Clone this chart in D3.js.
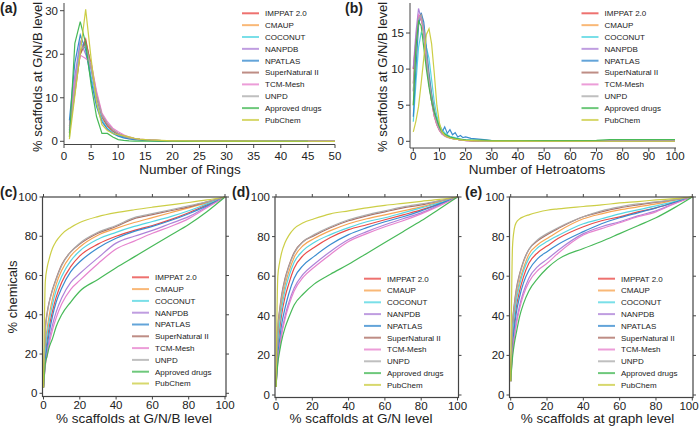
<!DOCTYPE html>
<html><head><meta charset="utf-8">
<script src="https://cdn.jsdelivr.net/npm/d3@7"></script>
<style>
body{margin:0;background:#fff}
svg{display:block}
text{font-family:"Liberation Sans",Arial,Helvetica,sans-serif;fill:#222}
</style>
</head><body>
<svg id="chart" width="700" height="427"></svg>
<script>
// ---------------- DATA ----------------
const seriesNames = ["IMPPAT 2.0","CMAUP","COCONUT","NANPDB","NPATLAS","SuperNatural II","TCM-Mesh","UNPD","Approved drugs","PubChem"];
const seriesColors = ["#e8423f","#f7a04a","#4dd4e0","#a97cd6","#2f86cc","#a8675c","#e57ccb","#a9a9a9","#3db54f","#c9cb3c"];

// (a) Number of rings
const ringsX = [1,2,3,4,5,6,7,8,9,10,11,12,13,14,15,16,17,18,19,20,22,25,30,35,40,45,50];
const ringsValues = [
  [3.5,13,20.5,23.5,17,10.5,5.5,3.5,2.3,1.5,1.0,0.7,0.5,0.35,0.25,0.2,0.15,0.1,0.08,0.06,0.04,0.03,0.02,0.01,0.01,0.01,0],
  [2,12,20,22.5,18,11,6.2,4,2.7,1.8,1.3,0.9,0.6,0.45,0.35,0.25,0.2,0.15,0.1,0.08,0.05,0.03,0.02,0.01,0.01,0.01,0],
  [2.5,14,22.5,21.5,15,9,5,3,2,1.3,0.9,0.6,0.45,0.35,0.25,0.2,0.15,0.1,0.08,0.06,0.04,0.03,0.02,0.01,0.01,0.01,0],
  [3,15,23,20,16.5,10,6,4,2.6,1.8,1.2,0.8,0.6,0.45,0.35,0.25,0.2,0.15,0.1,0.08,0.05,0.03,0.02,0.01,0.01,0.01,0],
  [4.8,18,24.4,21,14,8,4.5,2.8,1.8,1.2,0.8,0.55,0.4,0.3,0.2,0.15,0.1,0.08,0.06,0.05,0.04,0.03,0.02,0.01,0.01,0.01,0],
  [2,11,20,23,17.5,10.5,6,3.8,2.5,1.7,1.2,0.8,0.6,0.45,0.35,0.25,0.2,0.15,0.1,0.08,0.05,0.03,0.02,0.01,0.01,0.01,0],
  [2.5,14,19.8,19,18,11.5,6.5,4.5,3,2.2,1.5,1.0,0.7,0.5,0.4,0.3,0.2,0.15,0.1,0.08,0.05,0.03,0.02,0.01,0.01,0.01,0],
  [2,12,21,22,17,10.5,6,4,2.6,1.8,1.2,0.8,0.6,0.45,0.35,0.25,0.2,0.15,0.1,0.08,0.05,0.03,0.02,0.01,0.01,0.01,0],
  [1,22.5,27.5,22.5,13,5.7,1.8,1.8,1.0,0.4,0.2,0.1,0.05,0.03,0.02,0.02,0.01,0.01,0.01,0.01,0,0,0,0,0,0,null],
  [0.5,10.4,20.4,30.3,19,9,3.8,2.5,1.8,1.5,1.3,1.0,0.7,0.5,0.4,0.3,0.25,0.2,0.15,0.1,0.08,0.05,0.03,0.02,0.01,0.01,0]
];
const ringsXTicks = [0,5,10,15,20,25,30,35,40,45,50];
const ringsYTicks = [0,10,20,30];

// (b) Number of heteroatoms
const heteroX = [0,1,2,3,4,5,6,7,8,9,10,11,12,13,14,15,16,17,18,19,20,22,25,28,30,40,50,60,70,75,80,90,100];
const heteroValues = [
  [10,14,17.3,17.5,15,11,8,5.5,3.5,2.3,1.5,1.0,0.8,0.6,0.5,0.4,0.3,0.25,0.2,0.15,0.12,0.08,0.05,0.03,0.02,0.01,0.01,0.01,0.01,0.01,0.01,0.01,0.01],
  [5,12,16.5,17,15.5,12,9,6.5,4.5,3,2,1.4,1,0.8,0.6,0.5,0.4,0.3,0.25,0.2,0.15,0.1,0.06,0.04,0.03,0.02,0.01,0.01,0.01,0.01,0.01,0.01,0.01],
  [2.7,8,13,15,14.5,13,11.5,8.5,5.5,3.5,2.3,1.6,1.2,0.9,0.7,0.6,0.5,0.4,0.3,0.25,0.2,0.15,0.1,0.06,0.04,0.02,0.01,0.01,0.01,0.01,0.01,0.01,0.01],
  [10.1,15,18.4,17,16,12,8.5,6,3.8,2.5,1.6,1.2,0.9,0.7,0.5,0.4,0.3,0.25,0.2,0.15,0.1,0.08,0.05,0.03,0.02,0.01,0.01,0.01,0.01,0.01,0.01,0.01,0.01],
  [3.4,10,16,17.8,16.5,13,9.5,6.5,4.2,2.8,1.8,1.3,2.0,1.1,1.6,0.9,1.2,0.6,0.8,0.5,0.6,0.4,0.3,0.2,0.1,0.04,0.02,0.02,0.02,0.02,0.02,0.02,0.02],
  [8,13.5,17,17.5,15,11.5,8.5,5.8,3.8,2.5,1.6,1.1,0.8,0.6,0.5,0.4,0.3,0.25,0.2,0.15,0.12,0.08,0.05,0.03,0.02,0.01,0.01,0.01,0.01,0.01,0.01,0.01,0.01],
  [6.9,13,17.5,17,15,11,8,5.5,3.5,2.3,1.5,1.0,0.7,0.55,0.45,0.35,0.3,0.25,0.2,0.15,0.1,0.08,0.05,0.03,0.02,0.01,0.01,0.01,0.01,0.01,0.01,0.01,0.01],
  [7,13,17,17.5,15.5,12,8.5,6,3.8,2.5,1.6,1.1,0.8,0.6,0.5,0.4,0.3,0.25,0.2,0.15,0.12,0.08,0.05,0.03,0.02,0.01,0.01,0.01,0.01,0.01,0.01,0.01,0.01],
  [5,13,16.6,16,13,10,7.5,5.5,4,3,2,1.3,1.0,0.8,0.6,0.5,0.4,0.35,0.3,0.25,0.2,0.18,0.15,0.12,0.1,0.1,0.1,0.1,0.12,0.25,0.25,0.25,0.25],
  [1.3,2.8,4.8,8,11.5,14.8,15.6,13.5,9.5,5,2.5,1.3,0.8,0.6,0.45,0.35,0.3,0.25,0.2,0.15,0.12,0.1,0.06,0.04,0.03,0.02,0.01,0.01,0.01,0.01,0.01,0.01,0.01]
];
const heteroXTicks = [0,10,20,30,40,50,60,70,80,90,100];
const heteroYTicks = [0,5,10,15];

// (c) G/N/B level cumulative
const gnbX = [0,1,2,3,5,7,10,15,20,30,40,50,60,70,80,90,100];
const gnbValues = [
  [3,19,27,33,42,49,56.5,64.5,70,76,80,83,85.5,88.5,92,96,100],
  [3,25,33,39,48.5,55.5,62.5,70,74.5,80.5,84,87,89.5,92,94.5,97,100],
  [3,22,30,36,45.5,52.5,59.5,67.5,72.5,78.5,82,85,87.5,90,93,96.5,100],
  [3,15,21,26.5,35,41.5,48.5,56.5,61,69,76.5,80,83,86.5,90,95,100],
  [3,17,24,30,39.5,46.5,53.5,62,67,74,79,82.5,85,88,91.5,95.5,100],
  [3,33,41,46,53,58.5,65.5,72,76,81.5,85,89,91,93,95,97.5,100],
  [3,14,19.5,24.5,32.5,38.5,45.5,53,57.5,66,73.5,77.5,81.5,85,89,94.5,100],
  [3,32,40,45.5,52.5,58,65,72,76.5,82,85.5,89.5,91.5,93.5,95.5,97.5,100],
  [3,15,19,23,28,34,40,46.5,52,58,64,69.5,75,80.5,86,92.5,100],
  [3,57,64,68,74,77.5,81,84.5,87,90,92,93.5,94.8,96,97.2,98.5,100]
];

// (d) G/N level cumulative
const gnX = [0,1,2,3,5,7,10,15,21,30,40,50,60,70,80,90,100];
const gnValues = [
  [4,24,33,40,49.5,56,64,70.5,74.5,79.5,83.5,86,88.5,91,93.5,96.5,100],
  [4,30,39,46,55.5,62,69.5,75.5,79,83,86.5,89,91,93,95,97.5,100],
  [4,27,36,43,53,59.5,67,73,77,81,84.5,87.5,89.5,92,94.5,97,100],
  [4,18,25,31,40,46.5,54,61,66,72.5,78.5,82.5,86,89,92,96,100],
  [4,20,28,35,44,51,59,65.5,70,76,81,84.5,87.5,90,93,96.5,100],
  [4,34,43,50,59,65,72,77.5,80.5,84.5,88,90.5,92.5,94.5,96,98,100],
  [4,17,24,30,38.5,45,52.5,59.5,64.5,71,77.5,81.5,85,88,91.5,95.5,100],
  [4,33,42,49,58,64.5,71.5,77.5,81,85,88.5,91,93,95,96.5,98,100],
  [4,16,22,27,34,39,45.5,51,56,61,66,71.5,77,82.5,88,94,100],
  [4,60,67,71.5,77,80.5,84,87,89,91.5,93,94.5,95.8,96.8,97.8,98.8,100]
];

// (e) graph level cumulative
const graphX = [0,1,2,3,5,7,10,15,20,26,40,50,60,70,80,90,100];
const graphValues = [
  [7,28,37,44,53,59.5,66.5,72,75.2,79,85,88,90,92.5,94.5,97.3,100],
  [7,32,42,49,58,64,71,76,79,82.5,89,91.5,93.5,95,96.5,98.3,100],
  [7,30,40,47,56,62.5,69,74.5,77.5,80.5,86.5,89,91.5,93.5,95.5,97.7,100],
  [7,22,30,36.5,45.5,52,59,65,68.5,73,81.5,85,87.5,90.5,93,96.7,100],
  [7,25,34,41,50,56.5,63,69,72.4,76,82.5,86.5,89.5,92,94.5,97.2,100],
  [7,36,46,53,61.5,67.5,73.5,78,81,84,90,92.5,94.5,96,97.3,98.6,100],
  [7,21,29,35,44,50.5,57,63,66.5,71.5,80.8,84,87,90,92.5,96.5,100],
  [7,35,45,52,61,67,73.5,78.5,81.5,84.5,90,93,95,96.5,97.5,98.7,100],
  [7,19,26,31,40,46,52.5,59,64,68.5,74,77.5,81.5,85.5,89.5,94.5,100],
  [7,75,84,87,89,90,91,92.3,93.3,94,95.2,96,97,97.7,98.5,99.2,100]
];
const cumTicks = [0,20,40,60,80,100];

// ---------------- DRAWING ----------------
const svg = d3.select("#chart");
const axisColor = "#444";

function drawLegend(g, x0, y0, step) {
  seriesNames.forEach((name, i) => {
    const y = y0 + i * step;
    g.append("line").attr("x1", x0).attr("x2", x0 + 17).attr("y1", y).attr("y2", y)
      .attr("stroke", seriesColors[i]).attr("stroke-width", 2).attr("stroke-opacity", 0.75);
    g.append("text").attr("x", x0 + 23).attr("y", y).attr("dy", "0.35em")
      .attr("font-size", 8).text(name);
  });
}

function drawSeries(g, xs, values, x, y, curve) {
  const line = d3.line()
    .defined(d => d[1] !== null)
    .x(d => x(d[0])).y(d => y(d[1])).curve(curve);
  values.forEach((vals, i) => {
    const pts = xs.map((xv, j) => [xv, vals[j]]);
    g.append("path").datum(pts).attr("d", line)
      .attr("fill", "none").attr("stroke", seriesColors[i])
      .attr("stroke-width", 1.2).attr("stroke-opacity", 0.95);
  });
}

// Open (left/bottom) panel
function openPanel(o) {
  const g = svg.append("g");
  const x = d3.scaleLinear().domain(o.xDomain).range(o.xRange);
  const y = d3.scaleLinear().domain(o.yDomain).range(o.yRange);
  drawSeries(g, o.xs, o.values, x, y, d3.curveLinear);
  g.append("line").attr("x1", o.axisX).attr("x2", o.axisX).attr("y1", o.axisTop).attr("y2", o.axisY)
    .attr("stroke", axisColor).attr("stroke-width", 1);
  g.append("line").attr("x1", o.axisX).attr("x2", o.axisRight).attr("y1", o.axisY).attr("y2", o.axisY)
    .attr("stroke", axisColor).attr("stroke-width", 1);
  o.xTicks.forEach(t => {
    g.append("line").attr("x1", x(t)).attr("x2", x(t)).attr("y1", o.axisY).attr("y2", o.axisY + 3.5)
      .attr("stroke", axisColor);
    g.append("text").attr("x", x(t)).attr("y", 159.5).attr("text-anchor", "middle")
      .attr("font-size", 11.5).text(t);
  });
  o.yTicks.forEach(t => {
    g.append("line").attr("x1", o.axisX - 4).attr("x2", o.axisX).attr("y1", y(t)).attr("y2", y(t))
      .attr("stroke", axisColor);
    g.append("text").attr("x", o.axisX - 6).attr("y", y(t)).attr("dy", "0.35em").attr("text-anchor", "end")
      .attr("font-size", 11.5).text(t);
  });
  g.append("text").attr("x", o.xTitleX).attr("y", 174).attr("text-anchor", "middle")
    .attr("font-size", 13.5).text(o.xTitle);
  g.append("text").attr("transform", `translate(${o.yTitleX},77) rotate(-90)`)
    .attr("text-anchor", "middle").attr("dy", "0.35em").attr("font-size", 13).text(o.yTitle);
  g.append("text").attr("x", o.labelX).attr("y", 12.5).attr("font-size", 14).attr("font-weight", "bold").text(o.label);
  drawLegend(g, o.legendX, 13.3, 11.85);
}

function boxPanel(o) {
  const g = svg.append("g");
  const x = d3.scaleLinear().domain([0, 100]).range(o.xRange);
  const y = d3.scaleLinear().domain([0, 100]).range(o.yRange);
  const b = o.box; // [left, top, right, bottom]
  drawSeries(g, o.xs, o.values, x, y, d3.curveMonotoneX);
  g.append("rect").attr("x", b[0]).attr("y", b[1]).attr("width", b[2] - b[0]).attr("height", b[3] - b[1])
    .attr("fill", "none").attr("stroke", axisColor).attr("stroke-width", 1.2);
  cumTicks.forEach(t => {
    g.append("line").attr("x1", x(t)).attr("x2", x(t)).attr("y1", b[3]).attr("y2", b[3] + 3).attr("stroke", axisColor);
    g.append("line").attr("x1", x(t)).attr("x2", x(t)).attr("y1", b[1]).attr("y2", b[1] - 3).attr("stroke", axisColor);
    g.append("line").attr("x1", b[0] - 3).attr("x2", b[0]).attr("y1", y(t)).attr("y2", y(t)).attr("stroke", axisColor);
    g.append("line").attr("x1", b[2]).attr("x2", b[2] + 3).attr("y1", y(t)).attr("y2", y(t)).attr("stroke", axisColor);
    const lx = Math.min(x(t), 689);
    g.append("text").attr("x", lx).attr("y", b[3] + 12.5).attr("text-anchor", "middle")
      .attr("font-size", 11.5).text(t);
    g.append("text").attr("x", b[0] - 5).attr("y", y(t)).attr("dy", "0.35em").attr("text-anchor", "end")
      .attr("font-size", 11.5).text(t);
  });
  g.append("text").attr("x", o.xTitleX).attr("y", 423).attr("text-anchor", "middle")
    .attr("font-size", 13.5).text(o.xTitle);
  g.append("text").attr("x", o.labelX).attr("y", 197).attr("font-size", 14).attr("font-weight", "bold").text(o.label);
  drawLegend(g, o.legendX, o.legendY, 11.8);
}

openPanel({
  xs: ringsX, values: ringsValues, xDomain: [0, 50], yDomain: [0, 30],
  xRange: [64, 335], yRange: [141.3, 10.7], axisX: 64, axisY: 144.5, axisTop: 3, axisRight: 335,
  xTicks: ringsXTicks, yTicks: ringsYTicks,
  xTitle: "Number of Rings", xTitleX: 190, yTitle: "% scaffolds at G/N/B level", yTitleX: 37,
  label: "(a)", labelX: 0, legendX: 242
});
openPanel({
  xs: heteroX, values: heteroValues, xDomain: [0, 100], yDomain: [0, 15],
  xRange: [413.3, 675], yRange: [141.3, 33], axisX: 410, axisY: 148, axisTop: 3, axisRight: 676,
  xTicks: heteroXTicks, yTicks: heteroYTicks,
  xTitle: "Number of Hetroatoms", xTitleX: 537, yTitle: "% scaffolds at G/N/B level", yTitleX: 382,
  label: "(b)", labelX: 345, legendX: 581.5
});
boxPanel({
  xs: gnbX, values: gnbValues, xRange: [43.5, 225], yRange: [393.3, 197], box: [42.5, 197, 226, 396.5],
  xTitle: "% scaffolds at G/N/B level", xTitleX: 134, label: "(c)", labelX: 0, legendX: 132, legendY: 277.3
});
boxPanel({
  xs: gnX, values: gnValues, xRange: [276, 457.5], yRange: [395, 197], box: [275, 197, 458.5, 397.5],
  xTitle: "% scaffolds at G/N level", xTitleX: 361, label: "(d)", labelX: 232, legendX: 364, legendY: 278.7
});
boxPanel({
  xs: graphX, values: graphValues, xRange: [510.7, 692.3], yRange: [395, 197], box: [509.5, 197, 693, 397.5],
  xTitle: "% scaffolds at graph level", xTitleX: 597.5, label: "(e)", labelX: 465, legendX: 598, legendY: 278.7
});
svg.append("text").attr("transform", "translate(12,297) rotate(-90)").attr("text-anchor", "middle")
  .attr("dy", "0.35em").attr("font-size", 13).text("% chemicals");
</script>
</body></html>
